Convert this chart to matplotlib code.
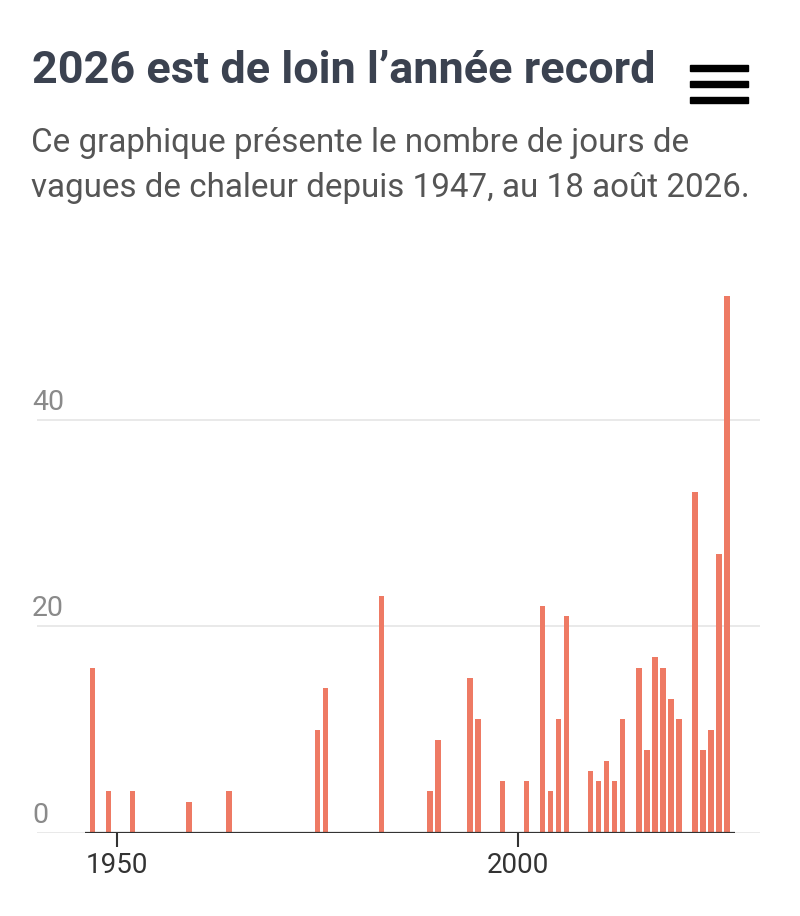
"""Jours de vagues de chaleur par an depuis 1947"""

import matplotlib
matplotlib.use("Agg")
import matplotlib.pyplot as plt
import matplotlib.transforms as mtransforms
from matplotlib.patches import Rectangle

# Years with at least one heat-wave day, and number of days
years = [1947, 1949, 1952, 1959, 1964, 1975, 1976, 1983, 1989, 1990,
         1994, 1995, 1998, 2001, 2003, 2004, 2005, 2006, 2009, 2010,
         2011, 2012, 2013, 2015, 2016, 2017, 2018, 2019, 2020, 2022,
         2023, 2024, 2025, 2026]
days = [16, 4, 4, 3, 4, 10, 14, 23, 4, 9,
        15, 11, 5, 5, 22, 4, 11, 21, 6, 5,
        7, 5, 11, 16, 8, 17, 16, 13, 11, 33,
        8, 10, 27, 52]
y_ticks = [0, 20, 40]
x_ticks = [1950, 2000]

title = "2026 est de loin l\u2019ann\u00e9e record"
subtitle = ["Ce graphique pr\u00e9sente le nombre de jours de",
            "vagues de chaleur depuis 1947, au 18 ao\u00fbt 2026."]

bar_color = "#ee7a64"
FONT = "Roboto"

W, H = 800, 916
fig = plt.figure(figsize=(W / 100, H / 100), dpi=100)
fig.patch.set_facecolor("white")


def px(x, y):
    # figure pixel coords (top-left origin) -> figure fraction
    return x / W, 1 - y / H


def fit_width(t, target):
    # scale font size so that the text covers the target width in pixels
    fig.canvas.draw()
    w = t.get_window_extent().width
    t.set_fontsize(t.get_fontsize() * target / w)


ax = fig.add_axes([37 / W, (H - 832.7) / H, 723 / W, 0.6079])
ax.bar(years, days, width=0.68, color=bar_color, zorder=2)
ax.set_xlim(1940.08, 2030.09)
ax.set_ylim(0, 54)

for s in ax.spines.values():
    s.set_visible(False)

for v in y_ticks:
    ax.axhline(v, color="#e3e3e3", lw=1.1, zorder=1)
ax.hlines(0, years[0] - 0.9, years[-1] + 1.0, color="#333333", lw=1.6, zorder=3)

ax.set_yticks([])
ax.set_xticks(x_ticks)
ax.set_xticklabels([str(t) for t in x_ticks])
ax.tick_params(axis="x", length=10, width=1.5, color="#333333", pad=4,
               labelsize=20, labelcolor="#333333")
for lab in ax.get_xticklabels():
    lab.set_fontfamily(FONT)

# y labels sit above their grid lines, at the left edge
offset = mtransforms.ScaledTranslation(-5 / 100, 10 / 100, fig.dpi_scale_trans)
trans = mtransforms.blended_transform_factory(ax.transAxes, ax.transData) + offset
for v in y_ticks:
    ax.text(0, v, str(v), transform=trans, ha="left", va="baseline",
            fontsize=20.5, color="#8a8a8a", family=FONT)

# title and subtitle
t = fig.text(*px(31.5, 83.3), title, ha="left", va="baseline",
             fontsize=30, fontweight="bold", color="#3b4250", family=FONT)
fit_width(t, 623)

s1 = fig.text(*px(31, 152), subtitle[0], ha="left", va="baseline",
              fontsize=22, color="#555555", family=FONT)
s2 = fig.text(*px(31, 196.7), subtitle[1], ha="left", va="baseline",
              fontsize=22, color="#555555", family=FONT)
fit_width(s2, 719)
s1.set_fontsize(s2.get_fontsize())

# menu icon
for yc in [68.3, 84.3, 100]:
    x0, y0 = px(690, yc + 3)
    fig.add_artist(Rectangle((x0, y0), 58 / W, 6 / H, color="black",
                             transform=fig.transFigure))

fig.savefig("out.png", dpi=100)
